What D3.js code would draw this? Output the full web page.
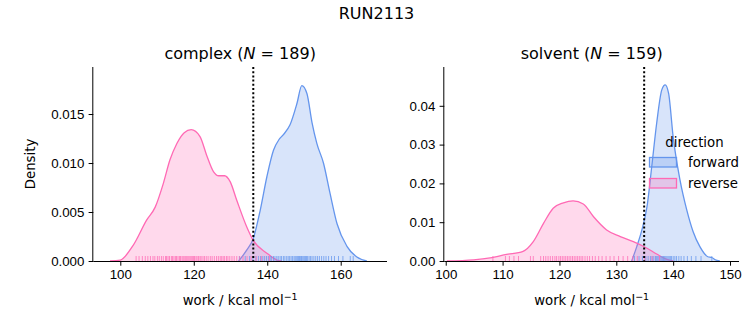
<!DOCTYPE html>
<html>
<head>
<meta charset="utf-8">
<script src="https://cdn.jsdelivr.net/npm/d3@7"></script>
<style>
  body { margin: 0; background: #fff; }
  svg { font-family: "DejaVu Sans", sans-serif; }
  .axis path, .axis line { stroke: #000; stroke-width: 1; }
  .axis text { font-size: 13.3px; fill: #000; }
</style>
</head>
<body>
<div id="chart"></div>
<script>
const directions = ["forward", "reverse"];
const colors = { forward: "#6495ED", reverse: "#FF69B4" };

// kde curves, [work, density]
const complexForwardKde = [
  [132.2, 0], [134.4, 0.0011], [136.2, 0.0023], [138.1, 0.0052], [139.9, 0.0086],
  [141.7, 0.0113], [143.2, 0.0124], [144.4, 0.0129], [146.2, 0.0139], [148.1, 0.0161],
  [149.4, 0.0179], [150.8, 0.0171], [152.2, 0.0141], [153.5, 0.0120], [155.3, 0.0100],
  [157.1, 0.0069], [159.0, 0.0038], [161.7, 0.0015], [164.4, 0.0004], [167.1, 0]
];
const complexReverseKde = [
  [97.2, 0], [100.0, 0.0001], [103.5, 0.0016], [107.2, 0.0042], [109.5, 0.0055],
  [111.7, 0.0079], [113.5, 0.0103], [115.4, 0.0120], [117.4, 0.0131], [119.3, 0.0134],
  [121.7, 0.0127], [123.5, 0.0108], [125.4, 0.0091], [126.8, 0.0087], [128.4, 0.0087],
  [129.9, 0.0081], [131.7, 0.0062], [134.4, 0.0035], [136.2, 0.0021], [139.9, 0.0008],
  [142.6, 0.0001], [144.0, 0]
];
const solventForwardKde = [
  [132.7, 0], [133.6, 0.0037], [134.5, 0.0080], [135.4, 0.0140], [136.3, 0.0252],
  [137.1, 0.0355], [138.0, 0.0441], [138.6, 0.0454], [139.2, 0.0432], [140.0, 0.0320],
  [141.2, 0.0209], [142.4, 0.0131], [143.5, 0.0076], [144.7, 0.0037], [146.1, 0.0011],
  [146.8, 0.0009], [147.3, 0.0004], [148.2, 0]
];
const solventReverseKde = [
  [100.2, 0], [104.9, 0.0003], [107.8, 0.0008], [110.7, 0.0017], [113.6, 0.0025],
  [115.4, 0.0050], [117.2, 0.0097], [118.9, 0.0136], [120.7, 0.0150], [122.4, 0.0155],
  [124.2, 0.0147], [126.0, 0.0114], [128.3, 0.0080], [130.7, 0.0063], [133.0, 0.0050],
  [135.4, 0.0033], [137.1, 0.0018], [138.9, 0.0004], [140.0, 0]
];

// individual work values shown in the rug
const complexForwardWork = [
  132.4, 134.0, 135.2, 136.1, 136.9, 137.6, 138.2, 138.8, 139.3, 139.8, 140.3, 140.8,
  141.2, 141.7, 142.1, 142.6, 143.0, 143.5, 143.9, 144.4, 144.8, 145.3, 145.7, 146.1,
  146.5, 146.9, 147.3, 147.6, 147.9, 148.2, 148.5, 148.8, 149.0, 149.3, 149.5, 149.8,
  150.1, 150.4, 150.7, 151.0, 151.4, 151.8, 152.2, 152.7, 153.2, 153.7, 154.2, 154.8,
  155.4, 156.0, 156.7, 157.5, 158.3, 159.4, 160.6, 162.6, 163.4
];
const complexReverseWork = [
  104.3, 105.1, 106.0, 106.8, 107.5, 108.2, 108.9, 109.4, 110.1, 110.6, 111.2, 111.7,
  112.3, 112.6, 113.0, 113.4, 113.9, 114.2, 114.6, 115.0, 115.3, 115.7, 116.1, 116.4,
  116.8, 117.1, 117.4, 117.8, 118.1, 118.4, 118.7, 119.0, 119.3, 119.6, 119.9, 120.2,
  120.6, 120.9, 121.3, 121.7, 122.0, 122.5, 122.9, 123.4, 123.9, 124.5, 125.0, 125.6,
  126.2, 126.7, 127.2, 127.6, 128.0, 128.4, 128.9, 129.3, 129.8, 130.4, 131.0, 131.7,
  132.5, 133.4, 134.5, 135.6, 137.0, 138.4, 140.6
];
const solventForwardWork = [
  133.2, 134.0, 134.6, 135.2, 135.6, 136.0, 136.3, 136.6, 136.9, 137.1, 137.3, 137.5,
  137.7, 137.9, 138.1, 138.3, 138.5, 138.7, 138.9, 139.1, 139.3, 139.5, 139.7, 140.0,
  140.3, 140.6, 141.0, 141.4, 141.9, 142.5, 143.2, 144.0, 144.9, 146.8
];
const solventReverseWork = [
  108.3, 110.5, 111.2, 112.0, 112.8, 114.9, 115.4, 116.7, 117.2, 117.6, 118.0, 118.4,
  118.8, 119.2, 119.5, 119.9, 120.2, 120.5, 120.8, 121.1, 121.4, 121.7, 122.0, 122.3,
  122.6, 122.9, 123.2, 123.5, 123.8, 124.1, 124.5, 124.9, 125.3, 125.8, 126.3, 126.9,
  127.5, 128.2, 128.9, 129.6, 130.4, 131.2, 132.0, 132.9, 133.7, 135.0, 136.3, 137.6
];

const complexTicksX = [100, 120, 140, 160];
const complexTicksY = [0, 0.005, 0.010, 0.015];
const solventTicksX = [100, 110, 120, 130, 140, 150];
const solventTicksY = [0, 0.01, 0.02, 0.03, 0.04];

// free energy estimates marked with the dotted line
const complexDeltaG = 136.2;
const solventDeltaG = 134.9;

const width = 753, height = 325;
const svg = d3.select("#chart").append("svg")
  .attr("width", width).attr("height", height);

svg.append("text")
  .attr("x", 376.5).attr("y", 19)
  .attr("text-anchor", "middle")
  .style("font-size", "16px")
  .text("RUN2113");

const panels = [
  {
    name: "complex", n: 189, left: 93.3, right: 387,
    xDomain: [92.65, 172.6], yMax: 0.0198,
    xTicks: complexTicksX, yTicks: complexTicksY, yFormat: ".3f",
    kde: { forward: complexForwardKde, reverse: complexReverseKde },
    work: { forward: complexForwardWork, reverse: complexReverseWork },
    deltaG: complexDeltaG, ylabel: true
  },
  {
    name: "solvent", n: 159, left: 444.3, right: 739,
    xDomain: [99.75, 151.58], yMax: 0.05,
    xTicks: solventTicksX, yTicks: solventTicksY, yFormat: ".2f",
    kde: { forward: solventForwardKde, reverse: solventReverseKde },
    work: { forward: solventForwardWork, reverse: solventReverseWork },
    deltaG: solventDeltaG, ylabel: false
  }
];

const plotTop = 67, plotBottom = 261;

panels.forEach((p) => {
  const x = d3.scaleLinear().domain(p.xDomain).range([p.left, p.right]);
  const y = d3.scaleLinear().domain([0, p.yMax]).range([plotBottom, plotTop]);
  const g = svg.append("g");

  directions.forEach((dir) => {
    const area = d3.area()
      .x((d) => x(d[0]))
      .y0(plotBottom)
      .y1((d) => y(d[1]))
      .curve(d3.curveMonotoneX);
    const line = d3.line()
      .x((d) => x(d[0]))
      .y((d) => y(d[1]))
      .curve(d3.curveMonotoneX);
    g.append("path")
      .datum(p.kde[dir])
      .attr("d", area)
      .attr("fill", colors[dir])
      .attr("fill-opacity", 0.25);
    g.append("path")
      .datum(p.kde[dir])
      .attr("d", line)
      .attr("fill", "none")
      .attr("stroke", colors[dir])
      .attr("stroke-width", 1.3);
  });

  // rug
  directions.forEach((dir) => {
    g.append("g")
      .selectAll("line")
      .data(p.work[dir])
      .enter()
      .append("line")
      .attr("x1", (d) => x(d)).attr("x2", (d) => x(d))
      .attr("y1", plotBottom).attr("y2", plotBottom - 5)
      .attr("stroke", colors[dir])
      .attr("stroke-opacity", 0.75)
      .attr("stroke-width", 1);
  });

  g.append("line")
    .attr("x1", x(p.deltaG)).attr("x2", x(p.deltaG))
    .attr("y1", plotTop).attr("y2", plotBottom)
    .attr("stroke", "#000")
    .attr("stroke-width", 2)
    .attr("stroke-dasharray", "2,2.2");

  svg.append("g")
    .attr("class", "axis")
    .attr("transform", `translate(0,${plotBottom})`)
    .call(d3.axisBottom(x).tickValues(p.xTicks).tickSize(4.7).tickPadding(4.2).tickSizeOuter(0))
    .call((a) => a.select(".domain").attr("d", `M${p.left},0.5H${p.right}`));

  svg.append("g")
    .attr("class", "axis")
    .attr("transform", `translate(${p.left},0)`)
    .call(d3.axisLeft(y).tickValues(p.yTicks).tickFormat(d3.format(p.yFormat))
      .tickSize(4.7).tickPadding(4.2).tickSizeOuter(0))
    .call((a) => a.select(".domain").attr("d", `M-0.5,${plotTop}V${plotBottom}`));

  const cx = (p.left + p.right) / 2;
  const title = svg.append("text")
    .attr("x", cx).attr("y", 59)
    .attr("text-anchor", "middle")
    .style("font-size", "16px");
  title.append("tspan").text(`${p.name} (`);
  title.append("tspan").style("font-style", "italic").text("N");
  title.append("tspan").text(` = ${p.n})`);

  const xl = svg.append("text")
    .attr("x", cx).attr("y", 305)
    .attr("text-anchor", "middle")
    .style("font-size", "13.3px");
  xl.append("tspan").text("work / kcal mol");
  xl.append("tspan").attr("dy", -5).style("font-size", "9.5px").text("\u22121");

  if (p.ylabel) {
    svg.append("text")
      .attr("transform", `translate(35,${(plotTop + plotBottom) / 2}) rotate(-90)`)
      .attr("text-anchor", "middle")
      .style("font-size", "13.3px")
      .text("Density");
  }
});

// legend
const legend = svg.append("g");
legend.append("text")
  .attr("x", 694.5).attr("y", 147)
  .attr("text-anchor", "middle")
  .style("font-size", "13.3px")
  .text("direction");
directions.forEach((dir, i) => {
  const yy = 157.5 + i * 21;
  legend.append("rect")
    .attr("x", 649.5).attr("y", yy)
    .attr("width", 27).attr("height", 9.5)
    .attr("fill", colors[dir]).attr("fill-opacity", 0.25)
    .attr("stroke", colors[dir]).attr("stroke-width", 1.3);
  legend.append("text")
    .attr("x", 688).attr("y", yy + 9)
    .style("font-size", "13.3px")
    .text(dir);
});
</script>
</body>
</html>
